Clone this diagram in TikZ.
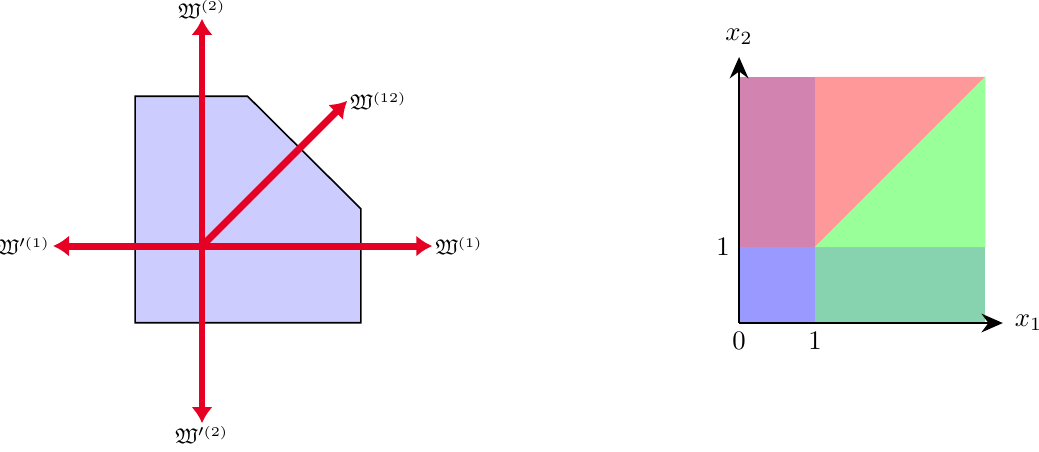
\documentclass[tikz,border=0pt]{standalone}
\usepackage{amsmath,amssymb,amsfonts}
\usepackage{xcolor}
\usepackage{tikz}
\usetikzlibrary{arrows.meta,positioning,calc}

\definecolor{wred}{RGB}{230,0,35}
\definecolor{regpurple}{RGB}{210,131,176}
\definecolor{regred}{RGB}{255,153,153}
\definecolor{reggreen}{RGB}{153,255,153}
\definecolor{regblue}{RGB}{153,153,255}
\definecolor{regteal}{RGB}{135,211,176}

\tikzset{
  warrow/.style={wred,line width=2.6pt,-{Latex[length=6pt,width=8pt]}},
  wlabel/.style={inner sep=0pt,font=\footnotesize},
  axis/.style={thick,-{Stealth[length=8pt,width=7pt]}}
}
\newcommand{\sss}[1]{^{\scriptscriptstyle(#1)}}
\newcommand{\ssp}[1]{^{\prime\scriptscriptstyle(#1)}}

\begin{document}
\begin{tikzpicture}[scale=1.0]
\useasboundingbox (0,0) rectangle (13.67,5.934);
% left: polytope and directions
\begin{scope}[shift={(2.658,2.697)}]
  \coordinate (c) at (0,0);
  \draw[semithick,fill=blue!20] (-0.88,-1.01) -- (2.09,-1.01) -- (2.09,0.49)
    -- (0.6,1.97) -- (-0.88,1.97) -- cycle;
  \coordinate (up) at (0,2.99);
  \coordinate (dn) at (0,-2.33);
  \coordinate (lt) at (-1.96,0);
  \coordinate (rt) at (3.03,0);
  \coordinate (dg) at (1.91,1.91);
  \foreach \t in {up,dn,lt,rt,dg}{
    \draw[warrow] (c) -- (\t);
  }
  \node[wlabel,anchor=south] (wup) at (up) {$\mathfrak{W}\sss{2}$};
  \node[wlabel,anchor=north] (wdn) at ([yshift=-1pt]dn) {$\mathfrak{W}\ssp{2}$};
  \node[wlabel,anchor=east]  (wlt) at ([xshift=-1pt]lt) {$\mathfrak{W}\ssp{1}$};
  \node[wlabel,anchor=west]  (wrt) at ([xshift=1pt]rt) {$\mathfrak{W}\sss{1}$};
  \node[wlabel,anchor=west]  (wdg) at ([xshift=1pt]dg) {$\mathfrak{W}\sss{12}$};
\end{scope}
% right: regions of the square
\begin{scope}[shift={(9.724,1.684)}]
  \coordinate (O) at (0,0);
  \fill[regblue]   (0,0) rectangle (1,1);
  \fill[regteal]   (1,0) rectangle (3.24,1);
  \fill[regpurple] (0,1) rectangle (1,3.24);
  \fill[regred]    (1,1) -- (3.24,3.24) -- (1,3.24) -- cycle;
  \fill[reggreen]  (1,1) -- (3.24,1) -- (3.24,3.24) -- cycle;
  \coordinate (xend) at (3.47,0);
  \coordinate (yend) at (0,3.5);
  \draw[axis] (O) -- (xend);
  \draw[axis] (O) -- (yend);
  \node[right=1pt of xend] (xl) {$x_1$};
  \node[above=1pt of yend] (yl) {$x_2$};
  \node[below] (z) at (O) {$0$};
  \node[below] (one) at (1,0) {$1$};
  \node[left] (oney) at (0,1) {$1$};
\end{scope}
\end{tikzpicture}
\end{document}
